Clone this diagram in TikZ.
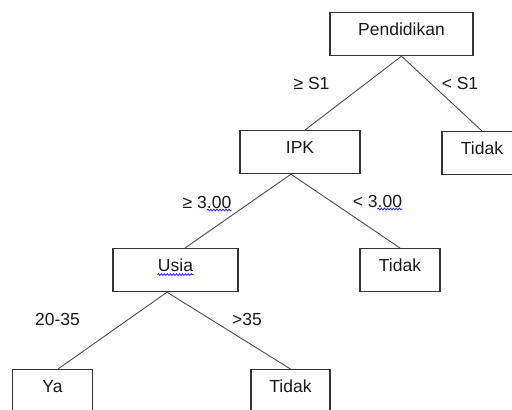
\documentclass[tikz,border=0pt]{standalone}
\usepackage{fontspec}
\setmainfont{Liberation Sans}
\usetikzlibrary{positioning}
\usetikzlibrary{decorations.pathmorphing}

\begin{document}
\begin{tikzpicture}[x=1pt, y=-1pt,
  every node/.style={font=\fontsize{17.5}{20}\selectfont, text=black!90},
  caja/.style={draw=black!80, line width=1.2pt, anchor=north, inner xsep=0pt, inner ysep=0pt, text height=23pt, text depth=20pt},
  etiqueta/.style={inner sep=0pt, anchor=base},
  rama/.style={draw=black!70, line width=0.9pt},
  onda/.style={draw=blue!85, line width=0.8pt, decorate, decoration={snake, amplitude=0.9pt, segment length=3pt}}]
              \useasboundingbox (0,0) rectangle (512,410);
              \clip (0,0) rectangle (512,410);
              % Nodos
              \node[caja, minimum width=143pt] (pend) at (401.5,12) {Pendidikan};
              \node[caja, minimum width=120pt] (ipk) at (300,130) {IPK};
              \node[caja, minimum width=80pt] (tidaka) at (482,131) {Tidak};
              \node[caja, minimum width=125pt] (usia) at (175.5,248) {Usia};
              \node[caja, minimum width=80pt] (tidakb) at (400,248) {Tidak};
              \node[caja, minimum width=80pt] (ya) at (52.5,369) {Ya};
              \node[caja, minimum width=79pt] (tidakc) at (290.5,369) {Tidak};

              % Etiquetas
              \node[etiqueta] (s1a) at (311.5,89) {≥ S1};
              \node[etiqueta] (s1b) at (460,89) {< S1};
              \node[etiqueta] (ipka) at (207,208) {≥ 3.00};
              \node[etiqueta] (ipkb) at (377.5,207) {< 3.00};
              \node[etiqueta] (usiaa) at (57.5,325) {20-35};
              \node[etiqueta] (usiab) at (247,325) {>35};

              % Aristas
              \draw[rama] (pend.south) -- ([xshift=5pt]ipk.north);
              \draw[rama] (pend.south) -- (tidaka.north);
              \draw[rama] ([xshift=-9pt]ipk.south) -- ([xshift=9.5pt]usia.north);
              \draw[rama] ([xshift=-9pt]ipk.south) -- (tidakb.north);
              \draw[rama] ([xshift=-8.5pt]usia.south) -- ([xshift=5.5pt]ya.north);
              \draw[rama] ([xshift=-8.5pt]usia.south) -- (tidakc.north);

              % Garis bawah
              \draw[onda] ([xshift=-18pt, yshift=-3pt]usia.base) -- ([xshift=18pt, yshift=-3pt]usia.base);
              \draw[onda] ([yshift=-2pt]ipka.base) -- ([yshift=-2pt]ipka.base east);
              \draw[onda] ([yshift=-2pt]ipkb.base) -- ([yshift=-2pt]ipkb.base east);
            \end{tikzpicture}
\end{document}
